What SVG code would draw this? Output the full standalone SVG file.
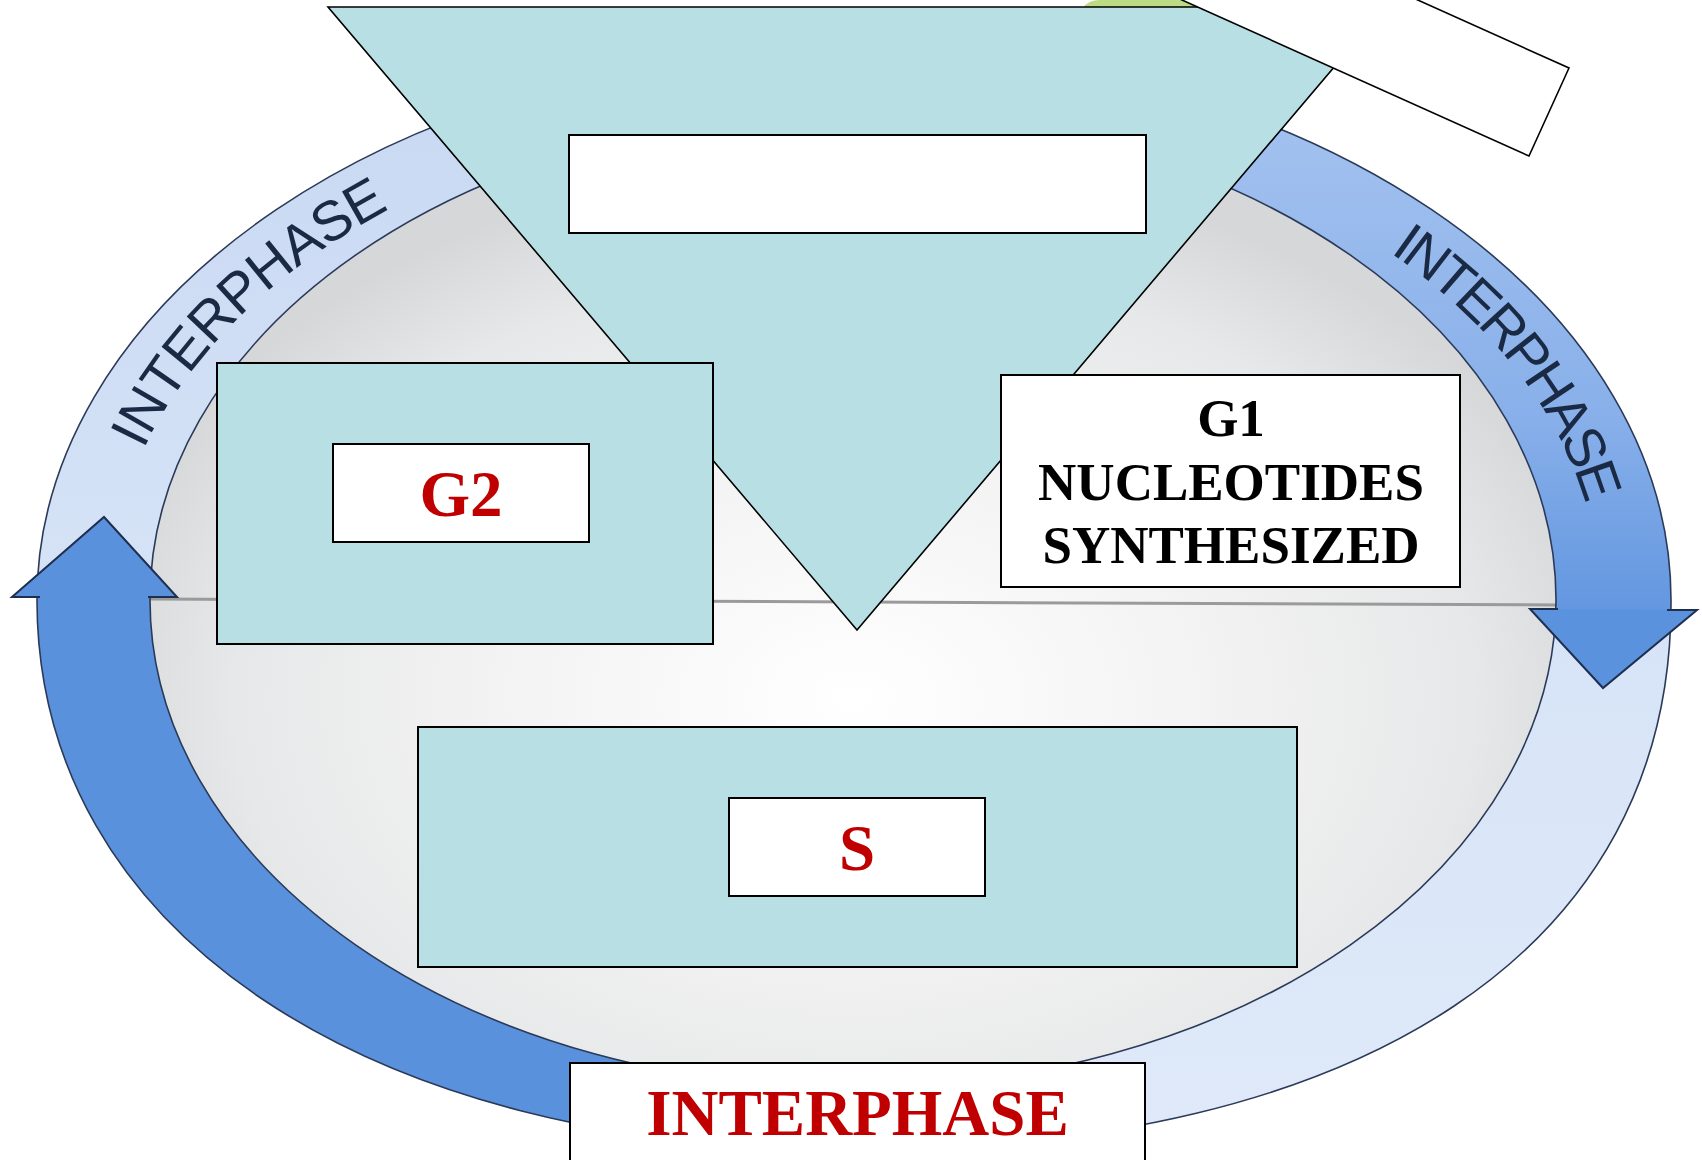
<svg xmlns="http://www.w3.org/2000/svg" width="1702" height="1160" viewBox="0 0 1702 1160">
<style>
.edge{stroke:#000;stroke-width:2}
.thin{stroke:#000;stroke-width:1.6}
.cyan{fill:#b8e0e4}
.white{fill:#ffffff}
.lbl{font-family:"Liberation Serif","Times New Roman",serif;font-weight:bold;text-anchor:middle}
.red{fill:#c00000}
.blk{fill:#000000}
.ringtxt{font-family:"Liberation Sans",Arial,sans-serif;font-size:56px;fill:#1b2a44}
.ringedge{fill:none;stroke:#2b3a58;stroke-width:1.6}
</style>
<defs>
<radialGradient id="cellGrad" cx="0.5" cy="0.6" r="0.55">
<stop offset="0" stop-color="#ffffff"/>
<stop offset="0.45" stop-color="#f3f3f3"/>
<stop offset="0.8" stop-color="#e7e8e9"/>
<stop offset="1" stop-color="#d5d7d9"/>
</radialGradient>
<linearGradient id="medGrad" gradientUnits="userSpaceOnUse" x1="0" y1="120" x2="0" y2="610">
<stop offset="0" stop-color="#a2c1ef"/>
<stop offset="0.6" stop-color="#89b0ea"/>
<stop offset="1" stop-color="#6397e0"/>
</linearGradient>
<linearGradient id="lightGrad" gradientUnits="userSpaceOnUse" x1="0" y1="100" x2="0" y2="1150">
<stop offset="0" stop-color="#c9d9f3"/>
<stop offset="0.5" stop-color="#d7e4f7"/>
<stop offset="1" stop-color="#dfe9f9"/>
</linearGradient>
<clipPath id="clipMed"><rect x="854" y="0" width="900" height="610"/></clipPath>
<clipPath id="clipDark"><rect x="0" y="597" width="854" height="600"/></clipPath>
<path id="ringShape" fill-rule="evenodd" d="M 37 600 A 817 552 0 0 1 1671 600 C 1673 950 1362 1150 854 1150 C 364 1150 37 930 37 600 Z M 150 600 A 703 488 0 0 0 1556 600 A 703 488 0 0 0 150 600 Z"/>
<path id="arcLeft" d="M 143.5 449.6 A 745 500 0 0 1 481.5 167"/>
<path id="arcRight" d="M 1389.9 252.5 A 745 500 0 0 1 1598.7 573.8"/>
</defs>

<rect x="0" y="0" width="1702" height="1160" fill="#ffffff"/>

<g id="cell">
<ellipse cx="853" cy="600" rx="703" ry="488" fill="url(#cellGrad)"/>
<line x1="150" y1="599" x2="1556" y2="605" stroke="#9a9a9a" stroke-width="3"/>
</g>

<g id="connectors">
<use href="#ringShape" fill="url(#lightGrad)"/>
<use href="#ringShape" fill="url(#medGrad)" clip-path="url(#clipMed)"/>
<use href="#ringShape" fill="#5a91dd" clip-path="url(#clipDark)"/>
<path class="ringedge" d="M 37 600 A 817 552 0 0 1 1671 600 C 1673 950 1362 1150 854 1150 C 364 1150 37 930 37 600 Z"/>
<ellipse class="ringedge" cx="853" cy="600" rx="703" ry="488"/>
<polygon points="12,597 104,517 177,597" fill="#5a91dd"/>
<path d="M 40 597 L 12 597 L 104 517 L 177 597 L 148 597" fill="none" stroke="#1f2f50" stroke-width="2"/>
<polygon points="1530,609 1697,610 1603,688" fill="#5b92de"/>
<path d="M 1558 609 L 1530 609 L 1603 688 L 1697 610 L 1667 610" fill="none" stroke="#1f2f50" stroke-width="2"/>
<text class="ringtxt"><textPath href="#arcLeft" textLength="350" lengthAdjust="spacing">INTERPHASE</textPath></text>
<text class="ringtxt"><textPath href="#arcRight" textLength="325" lengthAdjust="spacing">INTERPHASE</textPath></text>
</g>

<g id="green-shape">
<path d="M 1083 8 Q 1088 0 1100 0 L 1205 0 L 1205 8 Z" fill="#bcdb82"/>
</g>

<g id="triangle">
<polygon class="cyan thin" points="328,7 1385,7 857,630"/>
<rect class="white edge" x="569" y="135" width="577" height="98"/>
</g>

<g id="tilted-box">
<polygon class="white thin" points="1113,-137 1569,68 1529,156 1073,-49"/>
</g>

<g id="g2">
<rect class="cyan edge" x="217" y="363" width="496" height="281"/>
<rect class="white edge" x="333" y="444" width="256" height="98"/>
<text class="lbl red" x="461" y="516" font-size="65">G2</text>
</g>

<g id="g1">
<rect class="white edge" x="1001" y="375" width="459" height="212"/>
<text class="lbl blk" font-size="53"><tspan x="1231" y="436">G1</tspan><tspan x="1231" y="500">NUCLEOTIDES</tspan><tspan x="1231" y="563">SYNTHESIZED</tspan></text>
</g>

<g id="s">
<rect class="cyan edge" x="418" y="727" width="879" height="240"/>
<rect class="white edge" x="729" y="798" width="256" height="98"/>
<text class="lbl red" x="857" y="870" font-size="65">S</text>
</g>

<g id="interphase">
<rect class="white edge" x="570" y="1063" width="575" height="130"/>
<text class="lbl red" x="857.5" y="1135" font-size="65">INTERPHASE</text>
</g>
</svg>
